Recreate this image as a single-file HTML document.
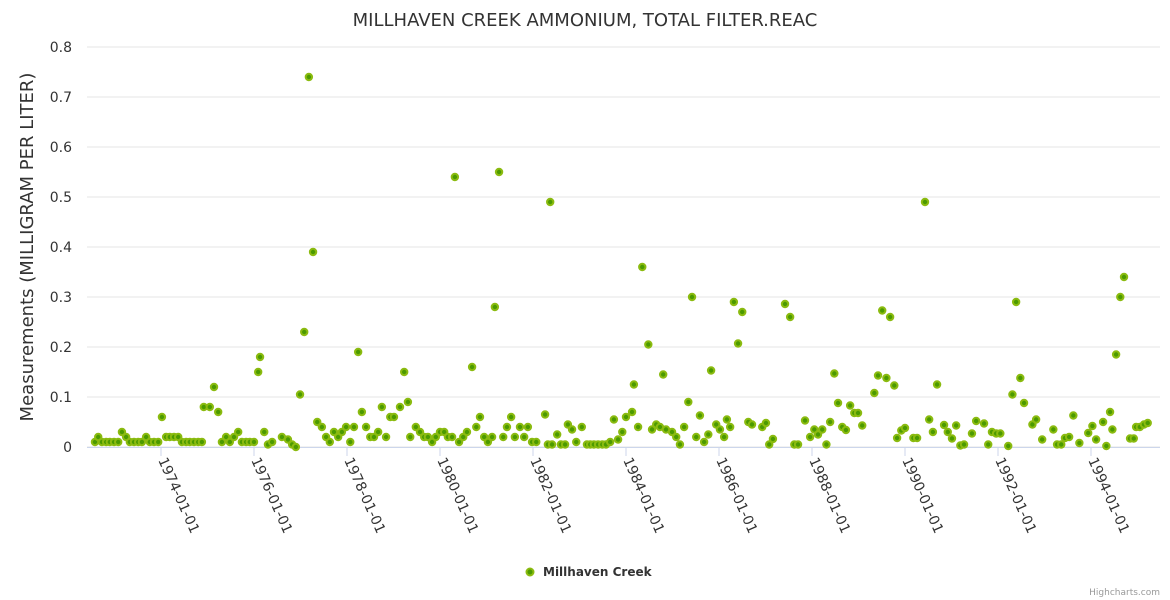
<!DOCTYPE html>
<html><head><meta charset="utf-8"><style>
body{margin:0;background:#fff;}
svg{display:block;font-family:"DejaVu Sans","Liberation Sans",sans-serif;}
</style></head><body>
<svg id="c" width="1170" height="600">
<text x="585" y="26" text-anchor="middle" font-size="18" fill="#333">MILLHAVEN CREEK AMMONIUM, TOTAL FILTER.REAC</text>
<text transform="translate(33,247) rotate(-90)" text-anchor="middle" font-size="18" fill="#333">Measurements (MILLIGRAM PER LITER)</text>
<g id="grid"></g><g id="xaxis"></g><g id="pts"></g>
<g>
<circle cx="530" cy="572" r="3.5" fill="#4b9a00" stroke="#8bbb10" stroke-width="2"/>
<text x="543" y="576" font-size="12" font-weight="bold" fill="#333">Millhaven Creek</text></g>
<text x="1160" y="595" text-anchor="end" font-size="9" fill="#999">Highcharts.com</text>
</svg>
<script>
const dates=[1972.58,1972.65,1972.73,1972.82,1972.90,1972.99,1973.08,1973.16,1973.25,1973.33,1973.42,1973.51,1973.59,1973.68,1973.76,1973.85,1973.94,1974.02,1974.11,1974.19,1974.28,1974.37,1974.45,1974.54,1974.62,1974.71,1974.80,1974.88,1974.92,1975.05,1975.14,1975.23,1975.31,1975.40,1975.48,1975.57,1975.66,1975.74,1975.83,1975.91,1976.00,1976.09,1976.13,1976.22,1976.30,1976.39,1976.60,1976.73,1976.82,1976.90,1976.99,1977.08,1977.18,1977.27,1977.36,1977.46,1977.55,1977.63,1977.72,1977.81,1977.89,1977.98,1978.07,1978.15,1978.24,1978.32,1978.41,1978.50,1978.58,1978.67,1978.75,1978.84,1978.93,1979.01,1979.14,1979.23,1979.31,1979.36,1979.48,1979.57,1979.66,1979.74,1979.83,1979.91,1980.00,1980.09,1980.17,1980.26,1980.32,1980.41,1980.50,1980.58,1980.69,1980.78,1980.86,1980.95,1981.03,1981.12,1981.18,1981.27,1981.36,1981.44,1981.53,1981.61,1981.72,1981.81,1981.89,1981.98,1982.07,1982.26,1982.32,1982.37,1982.41,1982.52,1982.60,1982.69,1982.75,1982.84,1982.93,1983.05,1983.16,1983.23,1983.31,1983.40,1983.49,1983.57,1983.66,1983.74,1983.83,1983.92,1984.00,1984.13,1984.17,1984.26,1984.35,1984.48,1984.56,1984.65,1984.73,1984.80,1984.86,1984.99,1985.08,1985.16,1985.25,1985.34,1985.42,1985.51,1985.59,1985.68,1985.77,1985.83,1985.94,1986.02,1986.11,1986.17,1986.24,1986.32,1986.41,1986.50,1986.63,1986.71,1986.93,1987.01,1987.08,1987.16,1987.42,1987.53,1987.62,1987.70,1987.85,1987.96,1988.05,1988.13,1988.22,1988.31,1988.39,1988.48,1988.56,1988.65,1988.73,1988.82,1988.91,1988.99,1989.08,1989.34,1989.42,1989.51,1989.60,1989.68,1989.77,1989.83,1989.92,1990.00,1990.18,1990.26,1990.43,1990.52,1990.60,1990.69,1990.84,1990.92,1991.01,1991.10,1991.19,1991.27,1991.44,1991.53,1991.70,1991.79,1991.87,1991.96,1992.05,1992.22,1992.31,1992.39,1992.48,1992.56,1992.74,1992.82,1992.95,1993.19,1993.27,1993.36,1993.44,1993.53,1993.62,1993.75,1993.94,1994.03,1994.11,1994.26,1994.33,1994.41,1994.46,1994.54,1994.63,1994.71,1994.84,1994.92,1994.97,1995.05,1995.14,1995.22];
const values=[0.01,0.02,0.01,0.01,0.01,0.01,0.01,0.03,0.02,0.01,0.01,0.01,0.01,0.02,0.01,0.01,0.01,0.06,0.02,0.02,0.02,0.02,0.01,0.01,0.01,0.01,0.01,0.01,0.08,0.08,0.12,0.07,0.01,0.02,0.01,0.02,0.03,0.01,0.01,0.01,0.01,0.15,0.18,0.03,0.005,0.01,0.02,0.015,0.005,0.0,0.105,0.23,0.74,0.39,0.05,0.04,0.02,0.01,0.03,0.02,0.03,0.04,0.01,0.04,0.19,0.07,0.04,0.02,0.02,0.03,0.08,0.02,0.06,0.06,0.08,0.15,0.09,0.02,0.04,0.03,0.02,0.02,0.01,0.02,0.03,0.03,0.02,0.02,0.54,0.01,0.02,0.03,0.16,0.04,0.06,0.02,0.01,0.02,0.28,0.55,0.02,0.04,0.06,0.02,0.04,0.02,0.04,0.01,0.01,0.065,0.005,0.49,0.005,0.025,0.005,0.005,0.045,0.035,0.01,0.04,0.005,0.005,0.005,0.005,0.005,0.005,0.01,0.055,0.015,0.03,0.06,0.07,0.125,0.04,0.36,0.205,0.035,0.045,0.04,0.145,0.035,0.03,0.02,0.005,0.04,0.09,0.30,0.02,0.063,0.01,0.025,0.153,0.045,0.035,0.02,0.055,0.04,0.29,0.207,0.27,0.05,0.045,0.04,0.048,0.005,0.016,0.286,0.26,0.005,0.005,0.053,0.02,0.035,0.025,0.035,0.005,0.05,0.147,0.088,0.04,0.034,0.083,0.068,0.068,0.043,0.108,0.143,0.273,0.138,0.26,0.123,0.018,0.033,0.038,0.018,0.018,0.49,0.055,0.03,0.125,0.044,0.03,0.017,0.043,0.003,0.005,0.027,0.052,0.047,0.005,0.03,0.027,0.027,0.002,0.105,0.29,0.138,0.088,0.045,0.055,0.015,0.035,0.005,0.005,0.018,0.02,0.063,0.008,0.028,0.042,0.015,0.05,0.002,0.07,0.035,0.185,0.3,0.34,0.017,0.017,0.04,0.04,0.045,0.048];
const yTicks=[0,0.1,0.2,0.3,0.4,0.5,0.6,0.7,0.8];
const yTickLabels=["0","0.1","0.2","0.3","0.4","0.5","0.6","0.7","0.8"];
const xTickYears=[1974,1976,1978,1980,1982,1984,1986,1988,1990,1992,1994];
const xTickLabels=["1974-01-01","1976-01-01","1978-01-01","1980-01-01","1982-01-01","1984-01-01","1986-01-01","1988-01-01","1990-01-01","1992-01-01","1994-01-01"];
const NS="http://www.w3.org/2000/svg";
const xs=y=>161+(y-1974)*46.5;
const ys=v=>447-v*500;
function mk(t,a,p){const e=document.createElementNS(NS,t);for(const k in a)e.setAttribute(k,a[k]);p.appendChild(e);return e;}
const g=document.getElementById('grid');
yTicks.forEach((v,i)=>{
 const l=mk('line',{x1:87,x2:1160,y1:ys(v),y2:ys(v),stroke:'#e6e6e6','stroke-width':1},g);
 
 
 const t=mk('text',{x:72,y:ys(v)+5,'text-anchor':'end','font-size':14,fill:'#333'},g);
 t.textContent=yTickLabels[i];
 
 
});
const xa=document.getElementById('xaxis');
const axl=mk('line',{x1:87,x2:1160,y1:447.5,y2:447.5,stroke:'#ccd6eb','stroke-width':1},xa);


xTickYears.forEach((yr,i)=>{
 const x=xs(yr);
 const tk=mk('line',{x1:x,x2:x,y1:447,y2:456,stroke:'#ccd6eb'},xa);
 
 
 const t=mk('text',{transform:`translate(${x-3},460) rotate(66)`,'font-size':14,fill:'#333'},xa);
 t.textContent=xTickLabels[i];
 
 
});
const pg=document.getElementById('pts');
dates.forEach((d,i)=>{
 const c=mk('circle',{cx:xs(d),cy:ys(values[i]),r:3.2,fill:'#4b9a00',stroke:'#8bbb10','stroke-width':2},pg);
 
 
});
</script>
</body></html>
